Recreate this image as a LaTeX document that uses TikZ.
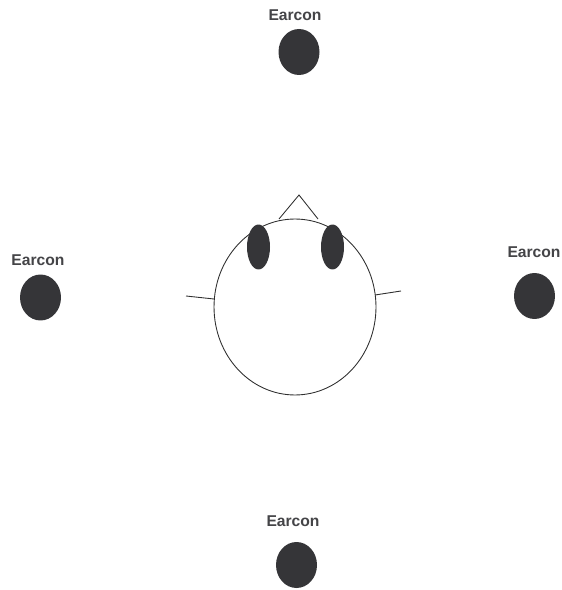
\documentclass[tikz,border=0pt]{standalone}
\usepackage{fontspec}
\setmainfont{Liberation Sans}
\usetikzlibrary{shapes.geometric}
\definecolor{earcondark}{HTML}{353538}
\definecolor{labelgray}{HTML}{444447}
\definecolor{linegray}{HTML}{303030}
\tikzset{
    earcon/.style={ellipse, fill=earcondark, inner sep=0pt, minimum width=0.82cm, minimum height=0.92cm},
    earconlabel/.style={font=\fontsize{8.9pt}{10pt}\selectfont\bfseries, text=labelgray, inner sep=0pt},
    speaker/.style={ellipse, fill=earcondark, inner sep=0pt, minimum width=0.46cm, minimum height=0.9cm}
}
\begin{document}
\begin{tikzpicture}[x=0.02cm, y=-0.02cm, line width=0.5pt]
    \useasboundingbox (0,0) rectangle (561,590);
    % ---------- head ----------
    \node[ellipse, draw=linegray, inner sep=0pt, minimum width=3.24cm, minimum height=3.52cm] (head) at (295,307) {};
    % ---------- nose ----------
    \coordinate (noseleft) at (279,219);
    \coordinate (nosetip) at (299,195);
    \coordinate (noseright) at (318,219);
    \draw[linegray] (noseleft) -- (nosetip) -- (noseright);
    % ---------- ears ----------
    \coordinate (earleft) at (186,296);
    \coordinate (earleftin) at (214,299);
    \coordinate (earright) at (401,291);
    \coordinate (earrightin) at (375,295);
    \draw[linegray] (earleft) -- (earleftin);
    \draw[linegray] (earright) -- (earrightin);
    % ---------- ear spots ----------
    \node[speaker] (spotleft) at (258.5,247) {};
    \node[speaker] (spotright) at (332.5,247) {};
    % ---------- earcons ----------
    \node[earcon] (top) at (299,52) {};
    \node[earconlabel] (toplabel) at (295,15.5) {Earcon};
    \node[earcon] (left) at (40.5,297.5) {};
    \node[earconlabel] (leftlabel) at (38,260) {Earcon};
    \node[earcon] (right) at (534.5,296) {};
    \node[earconlabel] (rightlabel) at (534,252) {Earcon};
    \node[earcon] (bottom) at (296.5,565) {};
    \node[earconlabel] (bottomlabel) at (293,521) {Earcon};
\end{tikzpicture}
\end{document}
